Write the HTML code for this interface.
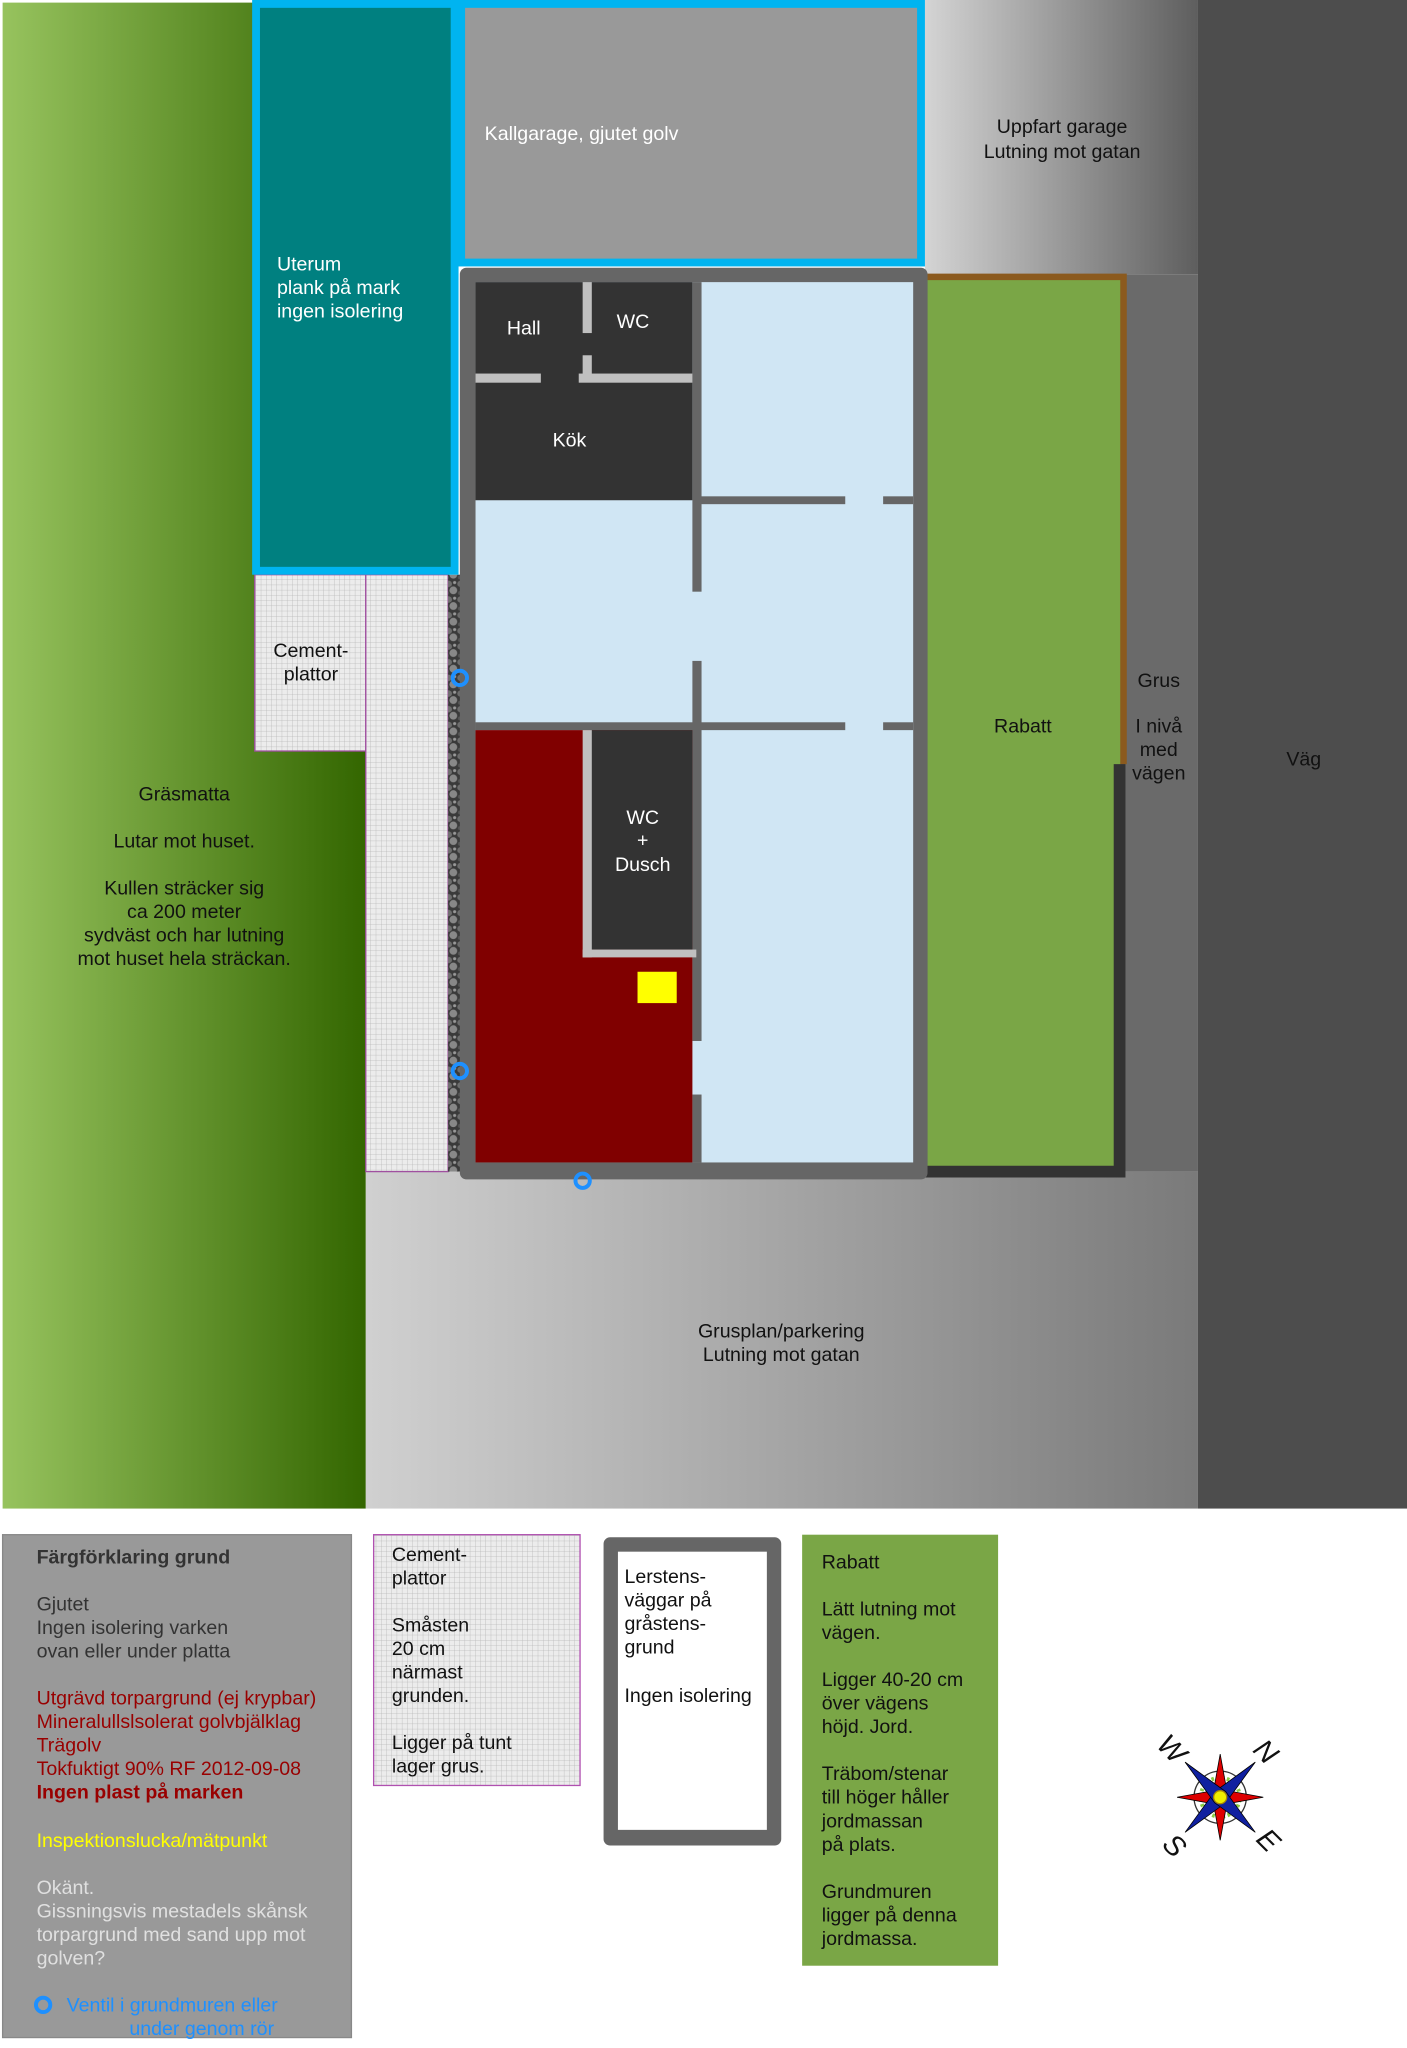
<!DOCTYPE html>
<html><head><meta charset="utf-8"><style>html,body{margin:0;padding:0;background:#fff}svg{display:block}text{font-family:"Liberation Sans",sans-serif}</style></head><body>
<svg xmlns="http://www.w3.org/2000/svg" width="1407" height="2048" viewBox="0 0 1077 1568" preserveAspectRatio="none">
<defs>
<linearGradient id="lawn" x1="0" x2="1" y1="0" y2="0"><stop offset="0" stop-color="#97c35e"/><stop offset="1" stop-color="#336600"/></linearGradient>
<linearGradient id="upp" x1="0" x2="1"><stop offset="0" stop-color="#d4d4d4"/><stop offset="1" stop-color="#5e5e5e"/></linearGradient>
<linearGradient id="grusp" x1="0" x2="1"><stop offset="0" stop-color="#d0d0d0"/><stop offset="1" stop-color="#7a7a7a"/></linearGradient>
<pattern id="grid" width="4" height="4" patternUnits="userSpaceOnUse"><rect width="4" height="4" fill="#ececec"/><path d="M4 0V4M0 4H4" stroke="#b8b8b8" stroke-width="0.6"/></pattern>
<pattern id="grav" width="10" height="12" patternUnits="userSpaceOnUse"><rect width="10" height="12" fill="#3a3a3a"/><ellipse cx="3" cy="3" rx="3" ry="2.5" fill="#6e6e6e"/><ellipse cx="7" cy="8" rx="3" ry="3" fill="#888"/><circle cx="2" cy="10" r="1.5" fill="#555"/><circle cx="8" cy="2" r="1.2" fill="#999"/></pattern>
</defs>
<rect x="2" y="2" width="278" height="1153" fill="url(#lawn)"/>
<rect x="708" y="0" width="209" height="210" fill="url(#upp)"/>
<rect x="917" y="0" width="160" height="1155" fill="#4d4d4d"/>
<rect x="708" y="210" width="209" height="687" fill="#6a6a6a"/>
<rect x="280" y="897" width="637" height="258" fill="url(#grusp)"/>
<rect x="710" y="212" width="148" height="681" fill="#7aa646"/>
<path d="M710 212H860V585" fill="none" stroke="#8b5a1e" stroke-width="5"/>
<path d="M857 585V897H708" fill="none" stroke="#333" stroke-width="9"/>
<rect x="195" y="440" width="85" height="135" fill="url(#grid)" stroke="#a050a0" stroke-width="1"/>
<rect x="280" y="440" width="63" height="457" fill="url(#grid)" stroke="#a050a0" stroke-width="1"/>
<rect x="343" y="440" width="10" height="457" fill="url(#grav)"/>
<rect x="196" y="3" width="152" height="434" fill="#008080" stroke="#00b4f0" stroke-width="6"/>
<rect x="353" y="3" width="352" height="198" fill="#999" stroke="#00b4f0" stroke-width="6"/>
<rect x="352" y="205" width="358" height="698" rx="5" fill="#666"/>
<rect x="364" y="216" width="335" height="674" fill="#d0e6f4"/>
<rect x="364" y="216" width="166" height="167" fill="#333"/>
<rect x="446" y="216" width="7" height="39" fill="#c0c0c0"/>
<rect x="446" y="272" width="7" height="15" fill="#c0c0c0"/>
<rect x="364" y="286" width="50" height="7" fill="#c0c0c0"/>
<rect x="443" y="286" width="90" height="7" fill="#c0c0c0"/>
<rect x="530" y="216" width="7" height="237" fill="#666"/>
<rect x="530" y="506" width="7" height="291" fill="#666"/>
<rect x="530" y="838" width="7" height="52" fill="#666"/>
<rect x="536" y="380" width="111" height="6" fill="#666"/>
<rect x="676" y="380" width="23" height="6" fill="#666"/>
<rect x="364" y="553" width="283" height="6" fill="#666"/>
<rect x="676" y="553" width="23" height="6" fill="#666"/>
<rect x="364" y="559" width="166" height="331" fill="#800000"/>
<rect x="452" y="559" width="78" height="168" fill="#333"/>
<rect x="446" y="559" width="7" height="174" fill="#c0c0c0"/>
<rect x="446" y="727" width="87" height="6" fill="#c0c0c0"/>
<rect x="488" y="744" width="30" height="24" fill="#ffff00"/>
<g fill="none" stroke="#1e90ff" stroke-width="3"><circle cx="352" cy="519" r="5.5"/><circle cx="352" cy="820" r="5.5"/><circle cx="446" cy="904" r="5.5"/></g>
<g font-size="15" fill="#fff">
<text x="212" y="207">Uterum</text><text x="212" y="225">plank på mark</text><text x="212" y="243">ingen isolering</text>
<text x="371" y="107">Kallgarage, gjutet golv</text>
<text x="388" y="256">Hall</text><text x="472" y="251">WC</text><text x="423" y="342">Kök</text>
<text x="492" y="631" text-anchor="middle">WC</text><text x="492" y="648" text-anchor="middle">+</text><text x="492" y="667" text-anchor="middle">Dusch</text>
</g>
<g font-size="15" fill="#111" text-anchor="middle">
<text x="813" y="102">Uppfart garage</text><text x="813" y="121">Lutning mot gatan</text>
<text x="783" y="561">Rabatt</text>
<text x="887" y="526">Grus</text><text x="887" y="561">I nivå</text><text x="887" y="579">med</text><text x="887" y="597">vägen</text>
<text x="998" y="586">Väg</text>
<text x="238" y="503">Cement-</text><text x="238" y="521">plattor</text>
<text x="141" y="613">Gräsmatta</text>
<text x="141" y="649">Lutar mot huset.</text>
<text x="141" y="685">Kullen sträcker sig</text><text x="141" y="703">ca 200 meter</text><text x="141" y="721">sydväst och har lutning</text><text x="141" y="739">mot huset hela sträckan.</text>
<text x="598" y="1024">Grusplan/parkering</text><text x="598" y="1042">Lutning mot gatan</text>
</g>
<rect x="2" y="1175" width="267" height="385" fill="#999" stroke="#888"/>
<g font-size="15">
<text x="28" y="1197" font-weight="bold" fill="#333">Färgförklaring grund</text>
<g fill="#333"><text x="28" y="1233">Gjutet</text><text x="28" y="1251">Ingen isolering varken</text><text x="28" y="1269">ovan eller under platta</text></g>
<g fill="#990000"><text x="28" y="1305">Utgrävd torpargrund (ej krypbar)</text><text x="28" y="1323">Mineralullslsolerat golvbjälklag</text><text x="28" y="1341">Trägolv</text><text x="28" y="1359">Tokfuktigt 90% RF 2012-09-08</text><text x="28" y="1377" font-weight="bold">Ingen plast på marken</text></g>
<text x="28" y="1414" fill="#ffff00">Inspektionslucka/mätpunkt</text>
<g fill="#e0e0e0"><text x="28" y="1450">Okänt.</text><text x="28" y="1468">Gissningsvis mestadels skånsk</text><text x="28" y="1486">torpargrund med sand upp mot</text><text x="28" y="1504">golven?</text></g>
<circle cx="33" cy="1535" r="5.5" fill="none" stroke="#1e90ff" stroke-width="3"/>
<g fill="#1e90ff"><text x="51" y="1540">Ventil i grundmuren eller</text><text x="99" y="1558">under genom rör</text></g>
</g>
<rect x="286" y="1175" width="158" height="192" fill="url(#grid)" stroke="#b050b0"/>
<g font-size="15" fill="#111"><text x="300" y="1195">Cement-</text><text x="300" y="1213">plattor</text><text x="300" y="1249">Småsten</text><text x="300" y="1267">20 cm</text><text x="300" y="1285">närmast</text><text x="300" y="1303">grunden.</text><text x="300" y="1339">Ligger på tunt</text><text x="300" y="1357">lager grus.</text></g>
<rect x="462" y="1177" width="136" height="236" rx="5" fill="#666"/>
<rect x="473" y="1188" width="114" height="213" fill="#fff"/>
<g font-size="15" fill="#111"><text x="478" y="1212">Lerstens-</text><text x="478" y="1230">väggar på</text><text x="478" y="1248">gråstens-</text><text x="478" y="1266">grund</text><text x="478" y="1303">Ingen isolering</text></g>
<rect x="614" y="1175" width="150" height="330" fill="#7aa646"/>
<g font-size="15" fill="#111"><text x="629" y="1201">Rabatt</text><text x="629" y="1237">Lätt lutning mot</text><text x="629" y="1255">vägen.</text><text x="629" y="1291">Ligger 40-20 cm</text><text x="629" y="1309">över vägens</text><text x="629" y="1327">höjd. Jord.</text><text x="629" y="1363">Träbom/stenar</text><text x="629" y="1381">till höger håller</text><text x="629" y="1399">jordmassan</text><text x="629" y="1417">på plats.</text><text x="629" y="1453">Grundmuren</text><text x="629" y="1471">ligger på denna</text><text x="629" y="1489">jordmassa.</text></g>
<g transform="translate(934,1376) rotate(45)">
<circle r="20" fill="#fff" stroke="#333" stroke-width="1"/>
<circle r="15" fill="none" stroke="#8c4" stroke-width="3" stroke-dasharray="2 2"/>
<g fill="#d00" stroke="#000" stroke-width="0.6"><path d="M0 -33L6 0L0 33L-6 0Z" transform="rotate(45)"/><path d="M0 -33L6 0L0 33L-6 0Z" transform="rotate(-45)"/></g>
<g fill="#1020a0" stroke="#000" stroke-width="0.6"><path d="M0 -38L6 0L0 38L-6 0Z"/><path d="M-38 0L0 6L38 0L0 -6Z"/></g>
<circle r="5" fill="#ee0" stroke="#a80"/>
</g>
<g font-family="Liberation Serif,serif" font-style="italic" font-size="22" fill="#111" text-anchor="middle">
<text x="968" y="1348" transform="rotate(45 968 1342)">N</text>
<text x="970" y="1416" transform="rotate(45 970 1410)">E</text>
<text x="898" y="1420" transform="rotate(45 898 1414)">S</text>
<text x="896" y="1346" transform="rotate(45 896 1340)">W</text>
</g>
</svg>
</body></html>
